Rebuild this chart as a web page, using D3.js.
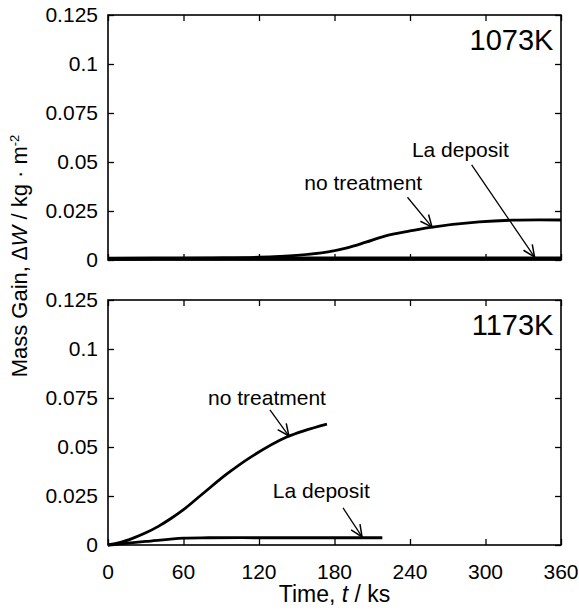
<!DOCTYPE html>
<html lang="en">
<head>
<meta charset="UTF-8">
<script src="https://d3js.org/d3.v7.min.js"></script>
<style>
  body { margin: 0; background: #fff; }
  svg text { font-family: "Liberation Sans", Arial, sans-serif; fill: #000; }
</style>
</head>
<body>
<div id="chart"></div>
<script>
// ---- data (time in ks, mass gain in kg/m2) ----
const timeTicks = [0, 60, 120, 180, 240, 300, 360];
const gainTicks = [0, 0.025, 0.05, 0.075, 0.1, 0.125];

// 1073K
const t1073NoTreat = [0, 40, 80, 120, 150, 175, 190, 205, 220, 240, 258, 295, 321, 360];
const g1073NoTreat = [0.0004, 0.0007, 0.001, 0.0014, 0.0024, 0.0042, 0.0062, 0.0091, 0.0122, 0.0148, 0.0168, 0.0194, 0.0203, 0.0204];
const t1073La = [0, 60, 120, 180, 240, 300, 360];
const g1073La = [0.0006, 0.0008, 0.0008, 0.0008, 0.0008, 0.0008, 0.0008];

// 1173K
const t1173NoTreat = [0, 10, 20, 30, 40, 50, 60, 75, 95, 115, 142, 174];
const g1173NoTreat = [0, 0.0013, 0.0035, 0.0062, 0.0095, 0.0135, 0.018, 0.026, 0.0365, 0.0455, 0.0551, 0.0617];
const t1173La = [0, 30, 60, 80, 120, 160, 200, 218];
const g1173La = [0, 0.0018, 0.0035, 0.0037, 0.0037, 0.0037, 0.0037, 0.0037];

// annotation labels: text anchor (t, g), arrow from (t, g) to (t, g)
const notes1073 = [
  {text: "La deposit", t: 241.5, g: 0.0526, from: [289, 0.0485], to: [339, 0.0015]},
  {text: "no treatment", t: 156, g: 0.0357, from: [238, 0.032], to: [257.5, 0.0168]}
];
const notes1173 = [
  {text: "no treatment", t: 79.5, g: 0.0714, from: [128.7, 0.0689], to: [143.8, 0.0556]},
  {text: "La deposit", t: 131, g: 0.024, from: [186.8, 0.0189], to: [201.9, 0.0041]}
];

const W = 579, H = 610;
const svg = d3.select("#chart").append("svg")
    .attr("width", W).attr("height", H);

const x = d3.scaleLinear().domain([0, 360]).range([108, 561]);

function panel(y, label, series, notes) {
  const g = svg.append("g");
  const [y0, y1] = y.range();

  // inward ticks on all four sides
  g.append("g").attr("transform", `translate(${x.range()[0]},0)`)
    .call(d3.axisLeft(y).tickValues(gainTicks).tickSize(-6).tickPadding(10)
      .tickFormat(d => d === 0 ? "0" : d3.format("")(d)))
    .call(a => a.select(".domain").remove())
    .call(a => a.selectAll("text").style("font-size", "21px"));
  g.append("g").attr("transform", `translate(${x.range()[1]},0)`)
    .call(d3.axisRight(y).tickValues(gainTicks).tickSize(-6).tickFormat(""))
    .call(a => a.select(".domain").remove());
  g.append("g").attr("transform", `translate(0,${y0})`)
    .call(d3.axisBottom(x).tickValues(timeTicks).tickSize(-6).tickFormat(""))
    .call(a => a.select(".domain").remove());
  g.append("g").attr("transform", `translate(0,${y1})`)
    .call(d3.axisTop(x).tickValues(timeTicks).tickSize(-6).tickFormat(""))
    .call(a => a.select(".domain").remove());
  g.selectAll(".tick line").attr("stroke", "#000").attr("stroke-width", 1.3);

  g.append("rect")
    .attr("x", x.range()[0]).attr("y", y1)
    .attr("width", x.range()[1] - x.range()[0]).attr("height", y0 - y1)
    .attr("fill", "none").attr("stroke", "#000").attr("stroke-width", 1.6);

  const line = d3.line().curve(d3.curveCatmullRom)
    .x(d => x(d[0])).y(d => y(d[1]));
  series.forEach(s => {
    g.append("path")
      .datum(d3.zip(s.t, s.g))
      .attr("d", line)
      .attr("fill", "none").attr("stroke", "#000")
      .attr("stroke-width", s.w);
  });

  g.append("text")
    .attr("x", x(354)).attr("y", y(0.107))
    .attr("text-anchor", "end")
    .style("font-size", "29px")
    .text(label);

  notes.forEach(n => {
    g.append("text")
      .attr("x", x(n.t)).attr("y", y(n.g))
      .style("font-size", "21px")
      .text(n.text);
    const x0 = x(n.from[0]), yA = y(n.from[1]);
    const x1 = x(n.to[0]), yB = y(n.to[1]);
    g.append("line")
      .attr("x1", x0).attr("y1", yA).attr("x2", x1).attr("y2", yB)
      .attr("stroke", "#000").attr("stroke-width", 1.3);
    const ang = Math.atan2(yB - yA, x1 - x0);
    const L = 13, sp = 0.42;
    const head = [
      [x1 - L * Math.cos(ang - sp), yB - L * Math.sin(ang - sp)],
      [x1, yB],
      [x1 - L * Math.cos(ang + sp), yB - L * Math.sin(ang + sp)]
    ];
    g.append("path")
      .attr("d", d3.line()(head))
      .attr("fill", "none").attr("stroke", "#000").attr("stroke-width", 1.5);
  });
}

const yTop = d3.scaleLinear().domain([0, 0.125]).range([260, 15]);
const yBot = d3.scaleLinear().domain([0, 0.125]).range([545, 300]);

panel(yTop, "1073K", [
  {t: t1073La, g: g1073La, w: 4},
  {t: t1073NoTreat, g: g1073NoTreat, w: 2.8}
], notes1073);

panel(yBot, "1173K", [
  {t: t1173La, g: g1173La, w: 2.8},
  {t: t1173NoTreat, g: g1173NoTreat, w: 2.8}
], notes1173);

// bottom x tick labels
svg.append("g").selectAll("text")
  .data(timeTicks).join("text")
    .attr("x", d => x(d)).attr("y", 579)
    .attr("text-anchor", "middle")
    .style("font-size", "21px")
    .text(d => d);

// axis titles
const xt = svg.append("text")
  .attr("x", (x.range()[0] + x.range()[1]) / 2).attr("y", 602)
  .attr("text-anchor", "middle")
  .style("font-size", "23px");
xt.append("tspan").text("Time, ");
xt.append("tspan").style("font-style", "italic").text("t");
xt.append("tspan").text(" / ks");

const yt = svg.append("text")
  .attr("transform", "translate(27,256) rotate(-90)")
  .attr("text-anchor", "middle")
  .style("font-size", "22px");
yt.append("tspan").text("Mass Gain, ");
yt.append("tspan").style("font-style", "italic").text("\u2206W");
yt.append("tspan").text(" / kg \u00b7 m");
yt.append("tspan").attr("dy", -8).style("font-size", "13px").text("-2");
</script>
</body>
</html>
